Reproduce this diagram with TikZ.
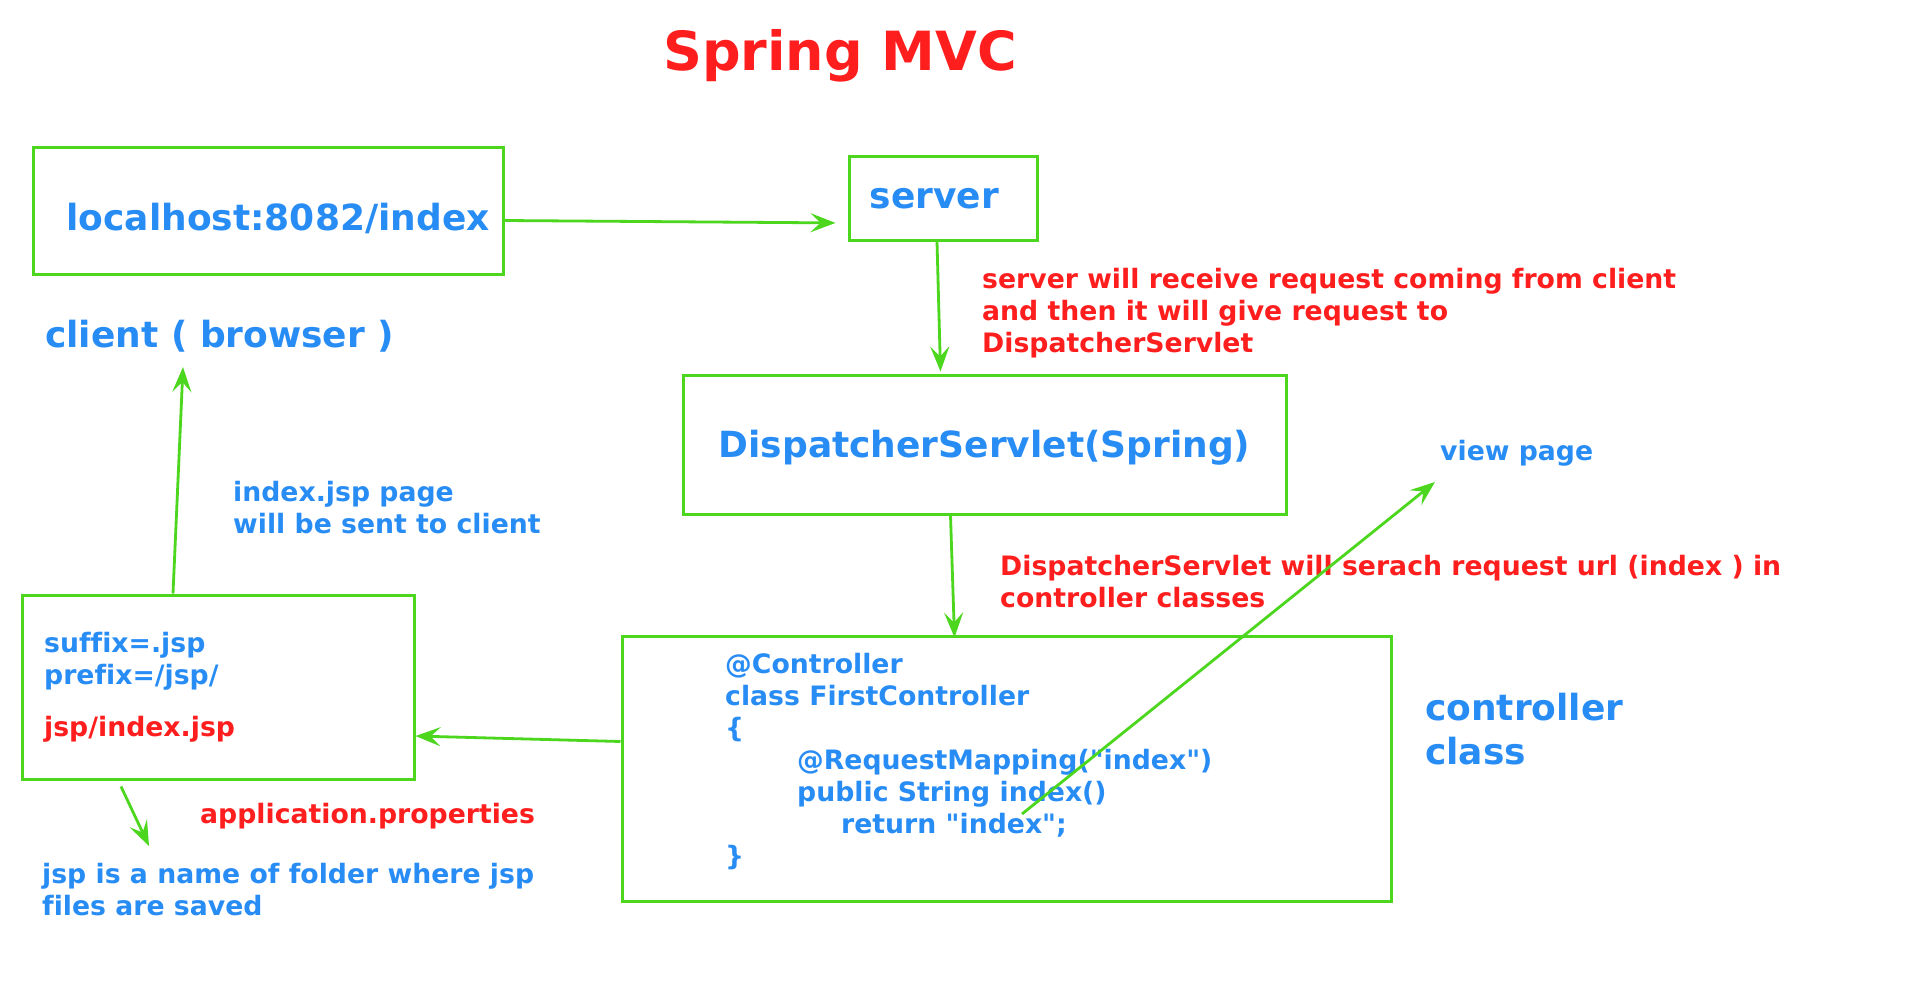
\documentclass[tikz,border=0pt]{standalone}
\usepackage{fontspec}
\setmainfont{DejaVu Sans}[Ligatures={TeXOff,CommonOff}]
\usetikzlibrary{arrows.meta,calc,positioning}
\definecolor{sblue}{RGB}{40,140,245}
\definecolor{sred}{RGB}{255,30,30}
\definecolor{sgreen}{RGB}{76,214,30}

\begin{document}
\begin{tikzpicture}
[x=1pt,y=-1pt,
box/.style={draw=sgreen,line width=3pt,inner sep=0pt},
big/.style={text=sblue,font=\fontsize{36}{44}\selectfont\bfseries,inner sep=0pt},
txt/.style={text=sblue,font=\fontsize{26.7}{32}\selectfont\bfseries,align=left,inner sep=0pt},
note/.style={txt,text=sred},
arr/.style={sgreen,line width=2.8pt,-{Stealth[length=25pt,width=19pt,inset=10pt]}}]
\path[fill=white,use as bounding box] (0,0) rectangle (1920,986);
%%
\node[text=sred,font=\fontsize{54}{60}\selectfont\bfseries] (title) at (840,56) {Spring MVC};
%%
%%%%%%%%%%%%%%%%%%
% client
%%%%%%%%%%%%%%%%%%
\node[box,minimum width=470pt,minimum height=127pt] (url) at (268,210.5) {};
\node[big] (urltext) at (278,218) {localhost:8082/index};
\node[big,anchor=west] (client) at (45,336.5) {client ( browser )};
\node[txt,anchor=west] (sent) at (233,508) {index.jsp page\\will be sent to client};
%%
%%%%%%%%%%%%%%%%%%
% server
%%%%%%%%%%%%%%%%%%
\node[box,minimum width=188pt,minimum height=84pt] (server) at (943,198) {};
\node[big] (servertext) at (934.5,198.5) {server};
\node[note,anchor=west] (recv) at (982,313.5) {server will receive request coming from client\\and then it will give request to\\DispatcherServlet};
%%
\node[box,minimum width=603pt,minimum height=139pt] (disp) at (984.5,444.5) {};
\node[big] (disptext) at (984.5,448) {DispatcherServlet(Spring)};
\node[note,anchor=west] (search) at (1000,582) {DispatcherServlet will serach request url (index ) in\\controller classes};
\node[txt,anchor=west] (view) at (1440,453.5) {view page};
%%
%%%%%%%%%%%%%%%%%%
% controller
%%%%%%%%%%%%%%%%%%
\node[box,minimum width=769pt,minimum height=265pt] (ctrl) at (1006.5,768.5) {};
\node[txt,anchor=west] (code) at (725,761.5) {@Controller\\class FirstController\\\{\\
\hspace*{72pt}@RequestMapping("index")\\
\hspace*{72pt}public String index()\\
\hspace*{116pt}return "index";\\
\}};
\node[big,anchor=west,align=left] (ctrlname) at (1425,729.5) {controller\\class};
%%
%%%%%%%%%%%%%%%%%%
% properties
%%%%%%%%%%%%%%%%%%
\node[box,minimum width=392pt,minimum height=184pt] (props) at (218,687) {};
\node[txt,anchor=west] (fix) at (44,661) {suffix=.jsp\\prefix=/jsp/};
\node[note,anchor=west] (page) at (44,729.5) {jsp/index.jsp};
\node[note,anchor=west] (appprops) at (200,816.5) {application.properties};
\node[txt,anchor=west] (folder) at (42,890) {jsp is a name of folder where jsp\\files are saved};
%%
%% arrows
\coordinate (clienttip) at (183,367);
\coordinate (foldertip) at (149,846);
\coordinate (retpt) at (1022,814);
\coordinate (viewtip) at (1435,482);
\draw[arr,shorten >=12pt] ($(url.east)+(0,10)$) -- ($(server.west)+(0,25)$);
\draw[arr] ($(server.south)+(-6,0)$) -- ($(disp.north)+(-44,-2)$);
\draw[arr] ($(disp.south)+(-34,0)$) -- ($(ctrl.north)+(-52,3)$);
\draw[arr] ($(ctrl.west)+(0,-27)$) -- ($(props.east)+(0,49)$);
\draw[arr] ($(props.north)+(-45,0)$) -- (clienttip);
\draw[arr] ($(props.south)+(-97,6)$) -- (foldertip);
\draw[arr] (retpt) -- (viewtip);
%%
\end{tikzpicture}
\end{document}
